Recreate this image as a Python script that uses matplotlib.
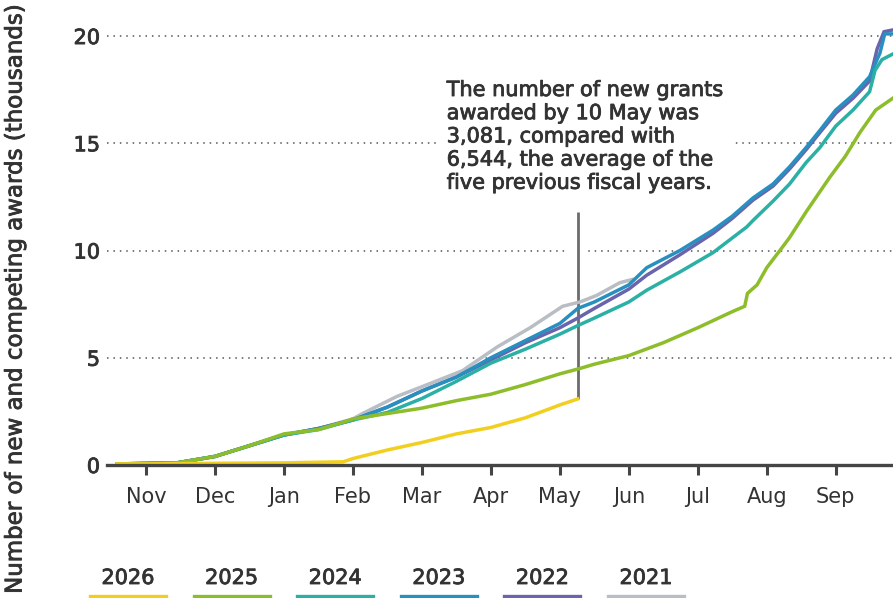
import matplotlib
matplotlib.use("Agg")
import matplotlib.pyplot as plt
import matplotlib.patheffects as pe
from matplotlib.lines import Line2D

plt.rcParams['font.family'] = ['DejaVu Sans']

# x positions are fiscal-year months (Oct 1 = 0, Nov 1 = 1, ...)
month_labels = ["Nov", "Dec", "Jan", "Feb", "Mar", "Apr", "May", "Jun", "Jul", "Aug", "Sep"]
month_pos = [1, 2, 3, 4, 5, 6, 7, 8, 9, 10, 11]

x_2026 = [0.58, 1.0, 2.0, 3.0, 3.86, 4.0, 4.5, 5.0, 5.5, 6.0, 6.5, 7.0, 7.26]
y_2026 = [0.05, 0.05, 0.08, 0.1, 0.15, 0.3, 0.7, 1.05, 1.45, 1.75, 2.2, 2.8, 3.08]

x_2025 = [0.58, 1.0, 1.45, 2.0, 2.5, 3.0, 3.5, 3.86, 4.0, 4.5, 5.0, 5.5, 6.0, 6.5, 7.0,
          7.29, 7.5, 8.0, 8.5, 9.0, 9.5, 9.68, 9.72, 9.86, 10.0, 10.19, 10.33, 10.57,
          10.91, 11.14, 11.35, 11.58, 11.85]
y_2025 = [0.05, 0.05, 0.1, 0.4, 0.9, 1.45, 1.65, 2.0, 2.15, 2.4, 2.65, 3.0, 3.3, 3.75, 4.25,
          4.5, 4.7, 5.1, 5.7, 6.4, 7.15, 7.4, 8.0, 8.4, 9.2, 10.0, 10.6, 11.8,
          13.4, 14.4, 15.5, 16.55, 17.15]

x_2024 = [0.58, 1.45, 2.0, 2.5, 3.0, 3.5, 4.0, 4.5, 5.0, 5.5, 6.0, 6.5, 7.0, 7.26, 7.5,
          8.0, 8.26, 8.74, 9.22, 9.71, 9.8, 10.09, 10.33, 10.57, 10.77, 11.0, 11.25,
          11.49, 11.57, 11.67, 11.85]
y_2024 = [0.05, 0.1, 0.4, 0.9, 1.4, 1.65, 2.1, 2.45, 3.1, 3.9, 4.75, 5.4, 6.1, 6.5, 6.85,
          7.6, 8.15, 9.0, 9.9, 11.1, 11.4, 12.3, 13.1, 14.1, 14.8, 15.8, 16.55,
          17.4, 18.4, 18.9, 19.2]

x_2023 = [0.58, 1.45, 2.0, 2.5, 3.0, 3.5, 4.0, 4.5, 5.0, 5.5, 6.0, 6.5, 7.0, 7.26, 7.5,
          8.0, 8.26, 8.74, 9.22, 9.5, 9.8, 10.09, 10.33, 10.57, 10.77, 11.0, 11.25,
          11.49, 11.64, 11.71, 11.85]
y_2023 = [0.05, 0.1, 0.4, 0.9, 1.4, 1.7, 2.1, 2.7, 3.45, 4.1, 5.0, 5.8, 6.6, 7.3, 7.6,
          8.4, 9.2, 10.0, 10.95, 11.6, 12.45, 13.1, 13.9, 14.8, 15.6, 16.55, 17.25,
          18.1, 19.2, 20.1, 20.1]

x_2022 = [0.58, 1.45, 2.0, 2.5, 3.0, 3.5, 4.0, 4.5, 5.0, 5.5, 6.0, 6.5, 7.0, 7.26, 7.5,
          8.0, 8.26, 8.74, 9.22, 9.5, 9.8, 10.09, 10.33, 10.57, 10.77, 11.0, 11.25,
          11.49, 11.6, 11.7, 11.85]
y_2022 = [0.05, 0.1, 0.4, 0.9, 1.4, 1.7, 2.1, 2.7, 3.45, 4.1, 4.9, 5.7, 6.4, 6.85, 7.3,
          8.2, 8.85, 9.8, 10.8, 11.5, 12.35, 13.0, 13.8, 14.7, 15.5, 16.4, 17.1,
          17.9, 19.4, 20.2, 20.3]

x_2021 = [0.58, 1.45, 2.0, 2.5, 3.0, 3.5, 4.0, 4.14, 4.64, 5.12, 5.59, 6.09, 6.57, 7.04,
          7.29, 7.53, 7.87, 8.05]
y_2021 = [0.05, 0.1, 0.4, 0.9, 1.4, 1.7, 2.15, 2.4, 3.2, 3.8, 4.4, 5.5, 6.4, 7.4,
          7.6, 7.9, 8.5, 8.65]

labels = ["2026", "2025", "2024", "2023", "2022", "2021"]
colors = ["#f2cf1f", "#8dbd2a", "#2bb0a5", "#2890c0", "#6a64ac", "#b9bdc4"]
xs = [x_2026, x_2025, x_2024, x_2023, x_2022, x_2021]
ys = [y_2026, y_2025, y_2024, y_2023, y_2022, y_2021]

annot_x = 7.26  # 10 May
annot_top = 11.8
annot_text = ("The number of new grants\nawarded by 10 May was\n3,081, compared with\n"
              "6,544, the average of the\nfive previous fiscal years.")

TXT = "#333333"
heavy = [pe.withStroke(linewidth=0.6, foreground=TXT)]

fig = plt.figure(figsize=(8.93, 5.98), dpi=100)
ax = fig.add_axes([107 / 893, 1 - 465 / 598, 1 - 107 / 893, 465 / 598])

zs = {"2021": 3, "2022": 4, "2023": 5, "2024": 6, "2025": 7, "2026": 8}
for lab, c, x, y in zip(labels, colors, xs, ys):
    ax.plot(x, y, color=c, lw=2.5, zorder=zs[lab], solid_joinstyle='miter')

ax.set_xlim(0.435, 11.83)
ax.set_ylim(0, 21.68)

for s in ["top", "right", "left"]:
    ax.spines[s].set_visible(False)
ax.spines["bottom"].set_color("#454545")
ax.spines["bottom"].set_linewidth(2.4)
ax.spines["bottom"].set_zorder(9)

ax.set_xticks(month_pos)
ax.set_xticklabels(month_labels)
ax.tick_params(axis='x', direction='out', length=7, width=2.2, color="#454545",
               labelsize=15, labelcolor=TXT, pad=9)
ax.set_yticks([0, 5, 10, 15, 20])
ax.tick_params(axis='y', length=0, labelsize=15, labelcolor=TXT, pad=5)
for t in ax.get_yticklabels():
    t.set_path_effects(heavy)

for v in [5, 10, 15, 20]:
    ax.axhline(v, color="#555555", lw=1.1, ls=(0, (1, 3.2)), zorder=0.5)

# annotation line with white halo
ax.plot([annot_x, annot_x], [y_2026[-1], annot_top], color="#6b6b6b", lw=2.0, zorder=2,
        solid_capstyle='butt',
        path_effects=[pe.Stroke(linewidth=13, foreground='white'), pe.Normal()])

ax.text(5.36, 17.95, annot_text, ha='left', va='top',
        fontsize=15, color=TXT, linespacing=1.2,
        zorder=2.5, path_effects=heavy,
        bbox=dict(facecolor='white', edgecolor='none', pad=6))

fig.text(15 / 893, 0.5, "Number of new and competing awards (thousands)", rotation=90,
         ha='center', va='center', fontsize=16.5, color=TXT, path_effects=heavy)

# legend along bottom
for i, (lab, c) in enumerate(zip(labels, colors)):
    cx = 128 + i * 103.6
    fig.text(cx / 893, 1 - 578 / 598, lab, ha='center', va='center', fontsize=15,
             color=TXT, path_effects=heavy)
    fig.add_artist(Line2D([(cx - 38) / 893, (cx + 38) / 893], [1 - 596 / 598, 1 - 596 / 598],
                          color=c, lw=2.4, transform=fig.transFigure))

fig.savefig("out.png", dpi=100)
